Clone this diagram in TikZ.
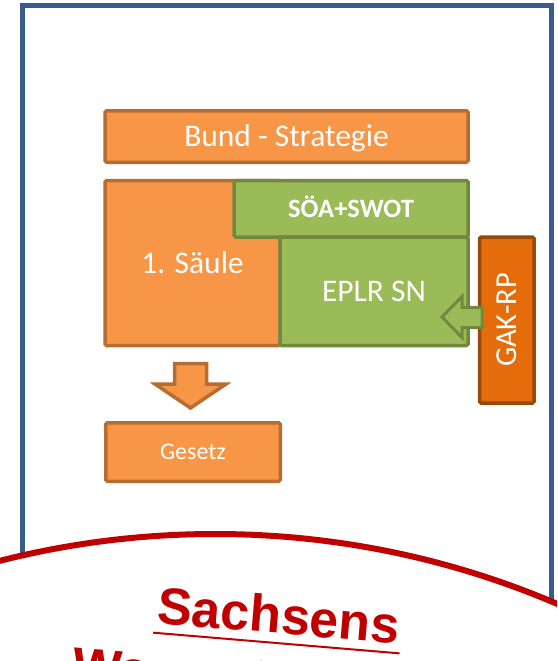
\documentclass[tikz,border=0pt]{standalone}
\usepackage{fontspec}
\setmainfont{Carlito}
\newfontfamily\headfont{Liberation Sans}

\definecolor{frameblue}{HTML}{385D8A}
\definecolor{boxorange}{HTML}{F79646}
\definecolor{boxorangeline}{HTML}{B66D31}
\definecolor{boxgreen}{HTML}{9BBB59}
\definecolor{boxgreenline}{HTML}{71893F}
\definecolor{gakorange}{HTML}{E46C0A}
\definecolor{gakline}{HTML}{984807}
\definecolor{sealred}{HTML}{C00000}

\tikzset{
  box/.style={draw, rounded corners=1.5pt, line width=3.5pt, inner sep=0pt,
    text=white, text height=20.3pt, text depth=0pt,
    font=\fontsize{31.5}{36}\selectfont},
  orangebox/.style={box, fill=boxorange, draw=boxorangeline},
  greenbox/.style={box, fill=boxgreen, draw=boxgreenline},
  gakbox/.style={box, fill=gakorange, draw=gakline},
  blockarrow/.style={line width=3pt, line join=miter},
  sealtext/.style={text=sealred, inner sep=0pt,
    font=\headfont\bfseries\fontsize{52}{60}\selectfont},
}

\begin{document}
\begin{tikzpicture}[x=1pt,y=-1pt]
  \clip (0,0) rectangle (557,661);
  \fill[white] (0,0) rectangle (557,661);

  % outer frame
  \draw[frameblue, line width=5pt] (22,700) -- (22,6) -- (551,6) -- (551,700);

  % strategy bar
  \node[orangebox, minimum width=363pt, minimum height=51.5pt]
    (bund) at (286.5,136.5) {Bund - Strategie};

  % first pillar and the programme blocks
  \node[orangebox, minimum width=175pt, minimum height=165pt]
    (saeule) at (192.5,263) {1. Säule};
  \node[greenbox, minimum width=234pt, minimum height=56.5pt,
        text height=17pt, font=\bfseries\fontsize{26.5}{30}\selectfont]
    (soea) at (351,208.75) {SÖA+SWOT};
  \node[greenbox, minimum width=188pt, minimum height=108.5pt]
    (eplr) at (374,291.25) {EPLR SN};

  % GAK framework plan
  \node[gakbox, rotate=90, minimum width=166pt, minimum height=54.5pt,
        text height=19.6pt, font=\fontsize{30.5}{34}\selectfont]
    (gak) at (506.75,320) {GAK-RP};

  % block arrow from GAK into EPLR
  \filldraw[blockarrow, fill=boxgreen, draw=boxgreenline]
    (442,317) -- (462,296.5) -- (462,307.5) -- (482,307.5) -- (482,327.5)
    -- (462,327.5) -- (462,337.5) -- cycle;

  % block arrow down to the law
  \filldraw[blockarrow, line width=3.5pt, fill=boxorange, draw=boxorangeline]
    (174.5,363.5) -- (206.5,363.5) -- (206.5,384) -- (226,384) -- (190.5,408)
    -- (155,384) -- (174.5,384) -- cycle;

  \node[orangebox, minimum width=174.5pt, minimum height=58.5pt,
        text height=15.5pt, font=\fontsize{24}{28}\selectfont]
    (gesetz) at (193,452) {Gesetz};

  % seal at the bottom
  \fill[white] (215,1404) circle [radius=870];
  \draw[sealred, line width=6pt] (215,1404) circle [radius=870];

  \node[sealtext, rotate=-4.8, anchor=base west, inner xsep=2pt,
        inner ysep=9.5pt, text depth=0pt]
    (sachsens) at (154,623) {Sachsens};
  \draw[sealred, line width=2pt] (sachsens.south west) -- (sachsens.south east);
  \node[sealtext, rotate=-4.8, anchor=base west] (wline) at (71,683) {Wasserhaushalt};
\end{tikzpicture}
\end{document}
